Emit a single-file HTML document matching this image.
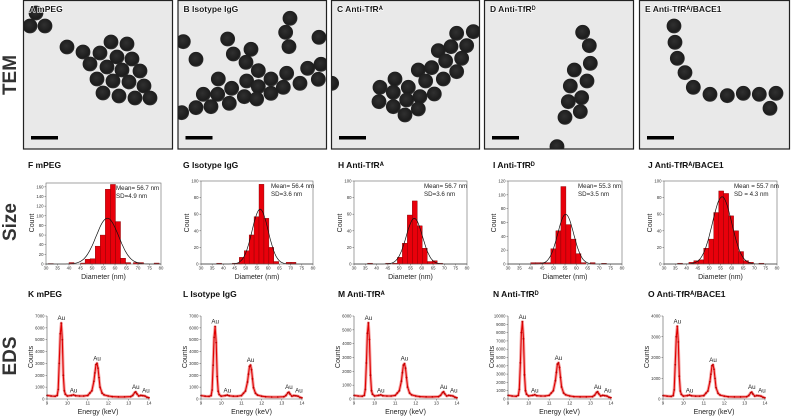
<!DOCTYPE html>
<html><head><meta charset="utf-8"><style>
html,body{margin:0;padding:0;background:#fff;}
svg{display:block;font-family:"Liberation Sans",sans-serif;}
</style></head><body>
<svg id="fig" width="791" height="418" viewBox="0 0 791 418" xmlns="http://www.w3.org/2000/svg">
<defs>
<radialGradient id="pg" cx="0.45" cy="0.42" r="0.6"><stop offset="0" stop-color="#303030"/><stop offset="0.8" stop-color="#1c1c1c"/><stop offset="1" stop-color="#3a3a3a"/></radialGradient>
</defs>
<text x="16" y="75" transform="rotate(-90 16 75)" text-anchor="middle" font-size="19" font-weight="bold" fill="#333">TEM</text>
<text x="16" y="222" transform="rotate(-90 16 222)" text-anchor="middle" font-size="19" font-weight="bold" fill="#333">Size</text>
<text x="16" y="356" transform="rotate(-90 16 356)" text-anchor="middle" font-size="19" font-weight="bold" fill="#333">EDS</text>
</svg>
<script>
const NS="http://www.w3.org/2000/svg";
const svg=document.getElementById('fig');
function mk(tag,attrs,parent){const e=document.createElementNS(NS,tag);for(const k in attrs)e.setAttribute(k,attrs[k]);(parent||svg).appendChild(e);return e;}

// ---------- TEM ----------
const temTitles=["A mPEG","B Isotype IgG","C Anti-TfR\u1d2c","D Anti-TfR\u1d30","E Anti-TfR\u1d2c/BACE1"];
const temBoxes=[[23,173],[177.5,327],[331,480],[484,634],[639,790]];
const particles=[
 [[36,13],[30,26],[45,26],[67,47],[83,52],[100,53],[111,42],[127,44],[117,57],[132,59],[90,64],[107,67],[122,70],[140,71],[97,79],[113,81],[129,82],[144,86],[103,93],[119,96],[135,98],[150,98]],
 [[25,125],[63,178],[158,117],[175,162],[228,148],[213,187],[345,55],[332,97],[342,140],[432,112],[398,205],[438,193],[250,212],[215,243],[288,237],[335,220],[130,237],[170,265],[250,260],[208,290],[288,280],[325,262],[375,250],[430,238],[85,283],[128,283],[163,310],[245,297],[20,338],[63,323],[108,320]],
 [[895,95],[845,100],[790,152],[828,140],[875,137],[812,183],[860,175],[845,215],[730,210],[770,203],[805,237],[752,243],[660,237],[615,262],[655,277],[700,262],[695,300],[735,290],[778,282],[612,305],[655,320],[730,327],[690,345],[470,250]],
 [[293,97],[313,137],[316,190],[268,210],[306,243],[256,258],[290,293],[250,305],[286,335],[240,352],[216,440]],
 [[567,78],[570,127],[577,175],[600,218],[625,262],[675,283],[727,287],[775,280],[823,283],[873,280],[855,325]]
];
const pOff=[[0,0,1],[175,0,3],[175,0,3],[485,0,3],[485,0,3]];
temBoxes.forEach((b,i)=>{
  const g=mk('g',{});
  
  
  const cp=mk('clipPath',{id:'cp'+i},g);
  mk('rect',{x:b[0],y:0,width:b[1]-b[0],height:149},cp);
  mk('rect',{x:b[0],y:0,width:b[1]-b[0],height:149,fill:'#e9e9e9'},g);
  const pg=mk('g',{'clip-path':'url(#cp'+i+')'},g);
  particles[i].forEach(p=>{
    const o=pOff[i];
    const c=mk('circle',{cx:p[0]/o[2]+o[0],cy:p[1]/o[2],r:7.4,fill:'url(#pg)'},pg);
    
    
  });
  mk('rect',{x:b[0]+0.5,y:0.5,width:b[1]-b[0]-1,height:148.5,fill:'none',stroke:'#222','stroke-width':1.2},g);
  const t=mk('text',{x:b[0]+6,y:12,'font-size':8.5,'font-weight':'bold',fill:'#1a1a1a',stroke:'#fff','stroke-width':1.2,'paint-order':'stroke'},g);
  t.textContent=temTitles[i];
  
  
  const sb=mk('rect',{x:b[0]+8,y:136,width:27,height:3.5,fill:'#000'},g);
  
  
});

// ---------- Size histograms ----------
const sizeTitles=["F mPEG","G Isotype IgG","H Anti-TfR\u1d2c","I Anti-TfR\u1d30","J Anti-TfR\u1d2c/BACE1"];
const xTicksSize=[30,35,40,45,50,55,60,65,70,75,80];
const binWidth=2.2;
const binsF=[31,40,45,47,49.2,51.4,53.6,55.8,58,60.2,62.4,64.6,68,70.2,77];
const countsF=[1,3,2,10,11,37,60,155,165,88,12,3,3,3,2];
const binsG=[37,44,46,47.1,49.3,51.5,53.7,55.9,58.1,60.3,62.5,68,70.2];
const countsG=[1,1,1,8,16,35,57,96,55,20,3,2,2];
const binsH=[36,44,47,49.2,51.4,53.6,55.8,58,60.2,62.4,64.6,67];
const countsH=[1,1,1,8,25,59,76,46,19,3,4,1];
const binsI=[40,42.2,44.4,46.6,48.8,51,53.2,55.4,57.6,59.8,62,66,71];
const countsI=[2,2,2,2,22,48,112,57,36,15,2,2,1];
const binsJ=[36,41,43.2,45.4,47.6,49.8,52,54.2,56.4,58.6,60.8,63,65.2,67.4,72];
const countsJ=[1,2,4,5,19,30,62,88,85,58,40,15,4,2,1];
const fitMean=[56.7,56.4,56.7,55.3,55.7];
const fitSD=[4.9,3.6,3.6,3.5,4.3];
const fitPeak=[95,66,55,72,81];
const yMaxSize=[168,100,100,120,100];
const yTicksSize=[[0,20,40,60,80,100,120,140,160],[0,20,40,60,80,100],[0,20,40,60,80,100],[0,20,40,60,80,100,120],[0,20,40,60,80,100]];
const meanLabels=["Mean= 56.7 nm","Mean= 56.4 nm","Mean= 56.7 nm","Mean= 55.3 nm","Mean = 55.7 nm"];
const sdLabels=["SD=4.9 nm","SD=3.6 nm","SD=3.6 nm","SD=3.5 nm","SD = 4.3 nm"];
const sizeBins=[binsF,binsG,binsH,binsI,binsJ];
const sizeCounts=[countsF,countsG,countsH,countsI,countsJ];
const sizeFrames=[[46,161,183],[201,313,181],[354,467,181],[508,622,181],[664,777,181]];
const sizeTitleX=[28,183,338,493,648];

sizeFrames.forEach((f,i)=>{
  const g=mk('g',{});
  
  
  const x0=f[0],x1=f[1],yt=f[2],yb=264;
  const sx=v=>x0+(v-30)/50*(x1-x0);
  const sy=v=>yb-v/yMaxSize[i]*(yb-yt);
  const t=mk('text',{x:sizeTitleX[i],y:168,'font-size':8.5,'font-weight':'bold',fill:'#111'},g);
  t.textContent=sizeTitles[i];
  
  
  mk('rect',{x:x0,y:yt,width:x1-x0,height:yb-yt,fill:'#fff'},g);
  sizeBins[i].forEach((b,j)=>{
    const v=sizeCounts[i][j];
    const r=mk('rect',{x:sx(b),y:sy(v),width:sx(b+binWidth)-sx(b),height:yb-sy(v),fill:'#e8000b',stroke:'#7a0000','stroke-width':0.4},g);
    
    
  });
  let d='';
  for(let x=30;x<=80;x+=0.5){const v=fitPeak[i]*Math.exp(-0.5*Math.pow((x-fitMean[i])/fitSD[i],2));d+=(d?'L':'M')+sx(x).toFixed(1)+','+sy(v).toFixed(1);}
  const c=mk('path',{d:d,fill:'none',stroke:'#111','stroke-width':0.7},g);
  
  
  mk('rect',{x:x0,y:yt,width:x1-x0,height:yb-yt,fill:'none',stroke:'#666','stroke-width':0.6},g);
  xTicksSize.forEach(v=>{
    mk('line',{x1:sx(v),x2:sx(v),y1:yb,y2:yb+1.5,stroke:'#555','stroke-width':0.5},g);
    const tl=mk('text',{x:sx(v),y:269.5,'font-size':4.3,'text-anchor':'middle',fill:'#333'},g);
    tl.textContent=v;
  });
  yTicksSize[i].forEach(v=>{
    mk('line',{x1:x0-1.5,x2:x0,y1:sy(v),y2:sy(v),stroke:'#555','stroke-width':0.5},g);
    const tl=mk('text',{x:x0-2.5,y:sy(v)+1.5,'font-size':4.3,'text-anchor':'end',fill:'#333'},g);
    tl.textContent=v;
  });
  const xl=mk('text',{x:(x0+x1)/2,y:279,'font-size':7,'text-anchor':'middle',fill:'#222'},g);
  xl.textContent='Diameter (nm)';
  
  
  const yl=mk('text',{x:x0-12,y:223,'font-size':7,'text-anchor':'middle',fill:'#222',transform:'rotate(-90 '+(x0-12)+' 223)'},g);
  yl.textContent='Count';
  
  
  const m=mk('text',{x:x0+70,y:yt+7,'font-size':6.2,fill:'#222'},g);
  m.textContent=meanLabels[i];
  
  
  const s=mk('text',{x:x0+70,y:yt+15,'font-size':6.2,fill:'#222'},g);
  s.textContent=sdLabels[i];
  
  
});

// ---------- EDS spectra ----------
const edsTitles=["K mPEG","L Isotype IgG","M Anti-TfR\u1d2c","N Anti-TfR\u1d30","O Anti-TfR\u1d2c/BACE1"];
const energy=[9.0,9.2,9.4,9.5,9.55,9.6,9.65,9.7,9.75,9.8,9.85,9.9,10.0,10.2,10.3,10.4,10.6,10.8,11.0,11.1,11.2,11.3,11.35,11.4,11.45,11.5,11.55,11.6,11.7,11.8,12.0,12.2,12.5,12.8,13.1,13.2,13.3,13.35,13.4,13.5,13.6,13.7,13.8,13.9,14.0];
const countsK=[300,250,230,300,800,3000,5500,6400,5000,2000,700,400,250,300,350,280,250,250,300,500,700,1500,2200,2900,3000,2600,1800,1000,500,350,250,200,180,180,200,300,550,600,450,250,300,280,250,150,100];
const countsL=[290,240,220,290,760,2850,5200,6100,4750,1900,660,380,240,290,330,270,240,240,290,480,670,1430,2100,2750,2850,2470,1700,950,480,330,240,190,170,170,190,290,520,570,430,240,290,270,240,140,90];
const countsM=[260,215,200,260,690,2600,4750,5500,4300,1720,600,345,215,260,300,240,215,215,260,430,600,1290,1900,2450,2550,2230,1550,860,430,300,215,170,155,155,170,260,470,520,390,215,260,240,215,130,85];
const countsN=[440,360,330,440,1160,4350,8000,9300,7250,2900,1000,580,360,440,510,400,360,360,440,720,1000,2200,3200,4200,4350,3800,2600,1450,720,510,360,290,260,260,290,440,800,870,650,360,440,400,360,220,150];
const countsO=[165,140,125,165,440,1650,3000,3500,2750,1100,385,220,140,165,190,155,140,140,165,275,385,830,1200,1600,1650,1430,990,550,275,190,140,110,100,100,110,165,300,330,250,140,165,155,140,85,55];
const edsCounts=[countsK,countsL,countsM,countsN,countsO];
const edsYMax=[7000,7000,6000,10000,4000];
const edsXTicks=[9,10,11,12,13,14];
const auEnergy=[9.7,10.3,11.45,13.35,13.75];
const auLevel=[[6400,300,3000,600,300],[6100,290,2850,570,290],[5500,260,2550,520,260],[9300,440,4350,870,440],[3500,165,1650,330,165]];
const edsFrames=[[47,149],[201,302],[354,457],[508,611],[663,765]];

edsFrames.forEach((f,i)=>{
  const g=mk('g',{});
  
  
  const x0=f[0],x1=f[1],yt=316,yb=399;
  const sx=v=>x0+(v-9)/5*(x1-x0);
  const sy=v=>yb-v/edsYMax[i]*(yb-yt);
  const t=mk('text',{x:sizeTitleX[i],y:297,'font-size':8.5,'font-weight':'bold',fill:'#111'},g);
  t.textContent=edsTitles[i];
  
  
  const pts=energy.map((e,j)=>sx(e).toFixed(1)+','+sy(edsCounts[i][j]).toFixed(1)).join(' ');
  mk('polyline',{points:pts,fill:'none',stroke:'#f3a0a0','stroke-width':3,'stroke-linejoin':'round'},g);
  const ln=mk('polyline',{points:pts,fill:'none',stroke:'#e00000','stroke-width':1.1,'stroke-linejoin':'round'},g);
  
  
  energy.forEach((e,j)=>{
    const c=mk('circle',{cx:sx(e),cy:sy(edsCounts[i][j]),r:0.9,fill:'#c00000'},g);
    
    
  });
  mk('line',{x1:x0,x2:x0,y1:yt,y2:yb,stroke:'#555','stroke-width':0.6},g);
  mk('line',{x1:x0,x2:x1,y1:yb,y2:yb,stroke:'#555','stroke-width':0.6},g);
  edsXTicks.forEach(v=>{
    mk('line',{x1:sx(v),x2:sx(v),y1:yb,y2:yb+1.5,stroke:'#555','stroke-width':0.5},g);
    const tl=mk('text',{x:sx(v),y:404.5,'font-size':4.5,'text-anchor':'middle',fill:'#333'},g);
    tl.textContent=v;
  });
  for(let v=0;v<=edsYMax[i];v+=1000){
    mk('line',{x1:x0-1.5,x2:x0,y1:sy(v),y2:sy(v),stroke:'#555','stroke-width':0.5},g);
    const tl=mk('text',{x:x0-2.5,y:sy(v)+1.5,'font-size':4.2,'text-anchor':'end',fill:'#333'},g);
    tl.textContent=v;
  }
  const xl=mk('text',{x:(x0+x1)/2,y:414,'font-size':7,'text-anchor':'middle',fill:'#222'},g);
  xl.textContent='Energy (keV)';
  
  
  const yl=mk('text',{x:x0-14,y:357,'font-size':7,'text-anchor':'middle',fill:'#222',transform:'rotate(-90 '+(x0-14)+' 357)'},g);
  yl.textContent='Counts';
  
  
  auEnergy.forEach((e,j)=>{
    const a=mk('text',{x:sx(e)+(j===4?2:0),y:sy(auLevel[i][j])-3,'font-size':6.2,'text-anchor':'middle',fill:'#222'},g);
    a.textContent='Au';
    
    
  });
});
</script>
</body></html>
